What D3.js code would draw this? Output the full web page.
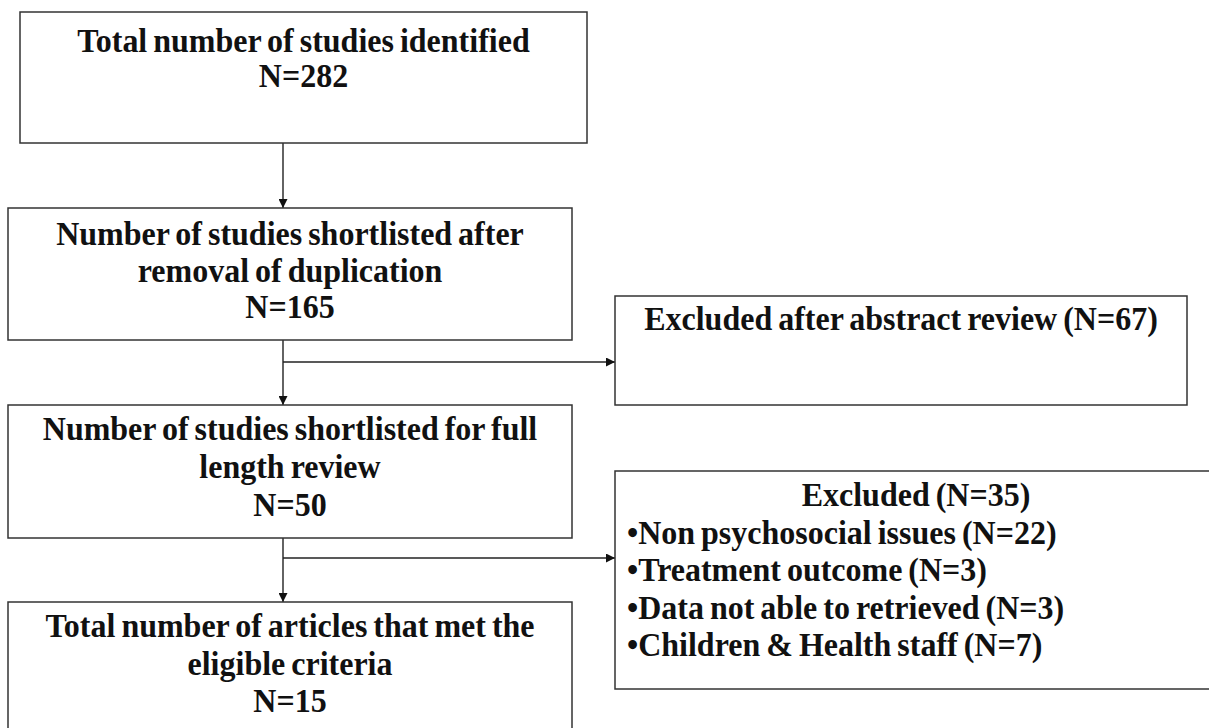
<!DOCTYPE html>
<html>
<head>
<meta charset="utf-8">
<script src="https://cdn.jsdelivr.net/npm/d3@7"></script>
<style>
  html, body { margin: 0; padding: 0; background: #fff; }
  svg { display: block; }
  text { font-family: "Liberation Serif", "Times New Roman", serif; font-weight: bold; fill: #111; }
</style>
</head>
<body>
<svg id="chart" width="1209" height="728"></svg>
<script>
// Flow chart texts (data)
const stageLabels = [
  ["Total number of studies identified", "N=282"],
  ["Number of studies shortlisted after", "removal of duplication", "N=165"],
  ["Number of studies shortlisted for full", "length review", "N=50"],
  ["Total number of articles that met the", "eligible criteria", "N=15"]
];
const exclusionTitles = ["Excluded after abstract review (N=67)", "Excluded (N=35)"];
const exclusionItems = [
  [],
  ["Non psychosocial issues (N=22)", "Treatment outcome (N=3)",
   "Data not able to retrieved (N=3)", "Children & Health staff (N=7)"]
];

// Layout (pixels)
const stageBoxes = [
  { x: 20, y: 12, w: 567, h: 131, first: 40, step: 35 },
  { x: 8, y: 208, w: 564, h: 132, first: 37, step: 36.5 },
  { x: 8, y: 405, w: 564, h: 133, first: 35, step: 38 },
  { x: 8, y: 602, w: 564, h: 150, first: 35, step: 37.5 }
];
const exclBoxes = [
  { x: 615, y: 296, w: 572, h: 109, first: 34, branchY: 362 },
  { x: 615, y: 471, w: 602, h: 218, first: 35, branchY: 558 }
];
const spineX = 283;
const FS = 32;
const STRETCH = 1.05;

const svg = d3.select("#chart");

svg.append("defs").append("marker")
  .attr("id", "arr")
  .attr("viewBox", "0 0 10 10")
  .attr("refX", 10).attr("refY", 5)
  .attr("markerWidth", 9).attr("markerHeight", 9)
  .attr("markerUnits", "userSpaceOnUse")
  .attr("orient", "auto")
  .append("path").attr("d", "M0,0L10,5L0,10Z").attr("fill", "#111");

const gLines = svg.append("g").attr("stroke", "#222").attr("stroke-width", 1.4).attr("fill", "none");

// vertical arrows between stages
d3.pairs(stageBoxes).forEach(([a, b]) => {
  gLines.append("line")
    .attr("x1", spineX).attr("y1", a.y + a.h)
    .attr("x2", spineX).attr("y2", b.y)
    .attr("marker-end", "url(#arr)");
});
// branches to exclusion boxes
exclBoxes.forEach(e => {
  gLines.append("line")
    .attr("x1", spineX).attr("y1", e.branchY)
    .attr("x2", e.x).attr("y2", e.branchY)
    .attr("marker-end", "url(#arr)");
});

const gBoxes = svg.append("g");

function drawBox(b) {
  gBoxes.append("rect")
    .attr("x", b.x).attr("y", b.y).attr("width", b.w).attr("height", b.h)
    .attr("fill", "none").attr("stroke", "#333").attr("stroke-width", 1.5);
}

function label(x, y, t, anchor) {
  gBoxes.append("text")
    .attr("transform", `translate(${x},${y}) scale(1,${STRETCH})`)
    .attr("text-anchor", anchor)
    .attr("font-size", FS)
    .attr("word-spacing", -2)
    .text(t);
}

stageBoxes.forEach((b, i) => {
  drawBox(b);
  stageLabels[i].forEach((t, j) => {
    label(b.x + b.w / 2, b.y + b.first + j * b.step, t, "middle");
  });
});

exclBoxes.forEach((b, i) => {
  drawBox(b);
  label(b.x + b.w / 2, b.y + b.first, exclusionTitles[i], "middle");
  exclusionItems[i].forEach((t, j) => {
    label(b.x + 12, b.y + b.first + (j + 1) * 37.5, "\u2022" + t, "start");
  });
});
</script>
</body>
</html>
